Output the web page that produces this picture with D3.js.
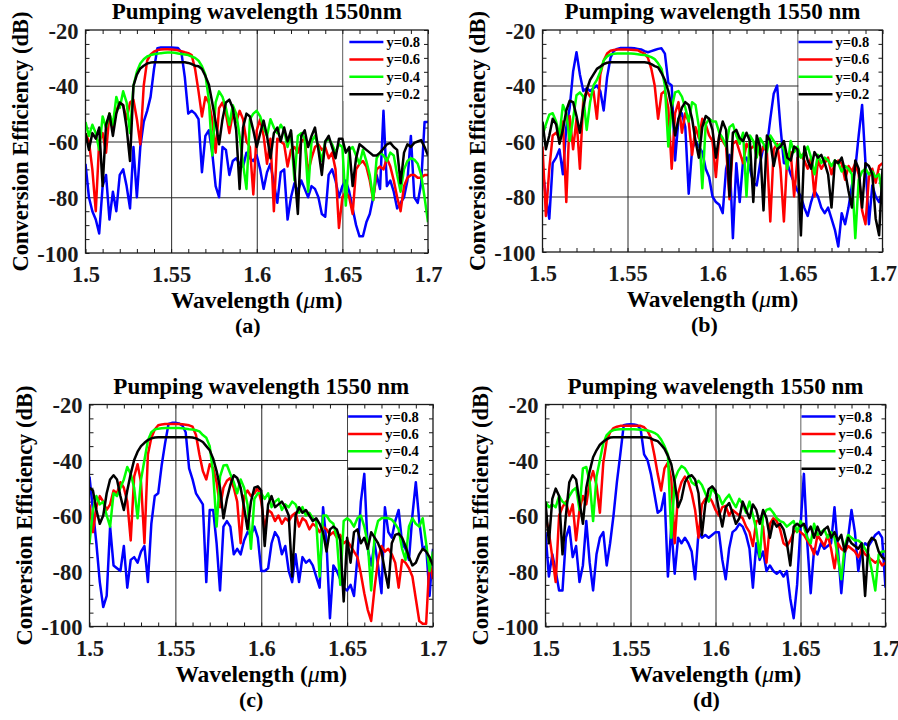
<!DOCTYPE html>
<html>
<head>
<meta charset="utf-8">
<script src="https://cdn.jsdelivr.net/npm/d3@7"></script>
<style>
  body { margin: 0; background: #fff; }
</style>
</head>
<body>
<div id="chart"></div>
<script>
// wavelength samples (um)
const wavelength = [
  1.500,1.502,1.504,1.506,1.508,1.510,1.512,1.514,1.516,1.518,
  1.520,1.522,1.524,1.526,1.528,1.530,1.532,1.534,1.536,1.538,
  1.540,1.542,1.544,1.546,1.548,1.550,1.552,1.554,1.556,1.558,
  1.560,1.562,1.564,1.566,1.568,1.570,1.572,1.574,1.576,1.578,
  1.580,1.582,1.584,1.586,1.588,1.590,1.592,1.594,1.596,1.598,
  1.600,1.602,1.604,1.606,1.608,1.610,1.612,1.614,1.616,1.618,
  1.620,1.622,1.624,1.626,1.628,1.630,1.632,1.634,1.636,1.638,
  1.640,1.642,1.644,1.646,1.648,1.650,1.652,1.654,1.656,1.658,
  1.660,1.662,1.664,1.666,1.668,1.670,1.672,1.674,1.676,1.678,
  1.680,1.682,1.684,1.686,1.688,1.690,1.692,1.694,1.696,1.698,
  1.700
];

const seriesNames = ["y=0.8", "y=0.6", "y=0.4", "y=0.2"];
const titles = ["Pumping wavelength 1550nm", "Pumping wavelength 1550 nm",
                "Pumping wavelength 1550 nm", "Pumping wavelength 1550 nm"];
const panelLabels = ["(a)", "(b)", "(c)", "(d)"];
const xTickValues = [1.5, 1.55, 1.6, 1.65, 1.7];
const xTickLabels = ["1.5", "1.55", "1.6", "1.65", "1.7"];
const yTickValues = [-20, -40, -60, -80, -100];
const yTickLabels = ["-20", "-40", "-60", "-80", "-100"];
const xGrid = [1.55, 1.6, 1.65];
const yGrid = [-40, -60, -80];

// (a)
const aBlue = [
  -68,-80,-85,-88,-93,-76,-72,-88,-78,-85,
  -72,-70,-76,-84,-62,-80,-62,-53,-49,-44,
  -34,-26.5,-26.3,-26.3,-26.3,-26.3,-26.4,-26.5,-28,-37,
  -50,-49,-50,-52,-71,-58,-56,-64,-76,-80,
  -62,-63,-72,-67,-66,-68,-69,-64,-66,-67,
  -65,-70,-77,-71,-68,-75,-82,-71,-70,-88,
  -80,-75,-78,-74,-77,-80,-76,-77,-80,-86,
  -87,-72,-70,-74,-80,-76,-74,-78,-84,-90,
  -94,-94,-89,-86,-80,-72,-77,-49,-76,-74,
  -78,-84,-82,-80,-74,-58,-80,-82,-75,-53,
  -53];
const aRed = [
  -57,-60,-70,-85,-60,-57,-64,-50,-55,-49,
  -46,-47,-52,-46,-45,-52,-61,-40,-31,-28.8,
  -27.8,-27.2,-27,-26.9,-26.9,-27,-27.1,-27.3,-27.6,-28,
  -28.3,-29,-34,-42,-51,-44,-46,-52,-64,-48,
  -46,-50,-57,-50,-53,-49,-52,-60,-62,-79,
  -56,-52,-58,-68,-59,-85,-59,-60,-61,-69,
  -63,-62,-64,-60,-59,-71,-66,-62,-61,-63,
  -62,-66,-64,-70,-91,-80,-78,-80,-86,-70,
  -68,-67,-69,-74,-81,-70,-69,-70,-66,-69,
  -74,-80,-85,-76,-73,-72,-72,-73,-73,-72,
  -72];
const aGreen = [
  -53,-58,-54,-57,-63,-51,-55,-50,-54,-44,
  -48,-42,-46,-57,-40,-35,-32,-30.5,-29.5,-29,
  -28.7,-28.5,-28.3,-28.2,-28.1,-28.1,-28.2,-28.4,-28.6,-28.8,
  -29,-29.5,-30,-31,-33,-36,-45,-65,-46,-42,
  -44,-48,-54,-47,-50,-58,-68,-77,-52,-50,
  -49,-51,-55,-58,-52,-55,-57,-54,-56,-62,
  -57,-74,-58,-57,-59,-78,-60,-58,-62,-67,
  -60,-59,-61,-64,-61,-62,-83,-63,-62,-65,
  -68,-63,-67,-72,-81,-66,-64,-65,-67,-64,
  -65,-72,-78,-70,-67,-66,-66.5,-68,-72,-80,
  -89];
const aBlack = [
  -57,-63,-57,-59,-55,-76,-54,-50,-58,-50,
  -46,-47,-55,-67,-40,-36,-33.8,-32.8,-32,-31.7,
  -31.6,-31.6,-31.6,-31.6,-31.6,-31.6,-31.6,-31.6,-31.6,-31.6,
  -31.8,-32.2,-32.8,-33,-34,-36.5,-39.5,-46,-53,-61,
  -52,-46,-45,-48,-56,-77,-55,-50,-51,-56,
  -62,-57,-52.5,-58,-66,-57,-55,-60,-55,-60,
  -56,-70,-86,-58,-56,-62,-58,-55,-63,-72,
  -60,-58,-62,-66,-59,-59,-64,-62,-76,-66,
  -61,-62,-63,-64,-65,-65,-64,-62.5,-61,-60.5,
  -62,-63,-75,-64,-61,-62,-60.5,-60,-59.5,-62,
  -65];

// (b)
const bBlue = [
  -70,-80,-88,-68,-66,-63,-72,-55,-48,-35,
  -28,-36,-42,-41,-42,-41,-40,-42,-49,-37,
  -30,-27.5,-26.8,-26.5,-26.5,-26.5,-26.5,-26.6,-26.8,-27,
  -27.6,-28,-27.6,-27.2,-26.8,-26.6,-28.5,-39,-40,-67,
  -52,-50,-55,-79,-63,-60,-62,-64,-70,-73,
  -80,-82,-83,-86,-70,-65,-95,-68,-82,-67,
  -66,-70,-75,-76,-68,-62,-62,-52,-43,-40,
  -55,-68,-68,-72,-75,-78,-80,-84,-87,-82,
  -78,-80,-84,-86,-84,-88,-92,-98,-86,-90,
  -84,-76,-70,-58,-47,-68,-90,-76,-80,-82,
  -78];
const bRed = [
  -62,-87,-70,-58,-57,-59,-53,-82,-51,-63,
  -52,-70,-45,-42,-44,-42,-52,-36,-31,-28.5,
  -27.5,-27.2,-27,-27,-27,-27,-27.1,-27.2,-27.3,-28,
  -28.5,-30,-34,-40,-52,-43,-42,-48,-70,-50,
  -46,-57,-50,-53,-65,-55,-59,-52,-54,-58,
  -60,-73,-58,-60,-62,-81,-61,-60,-64,-68,
  -61,-63,-62,-60,-65,-62,-64,-89,-63,-61,
  -70,-89,-65,-64,-80,-66,-65,-67,-70,-66,
  -80,-67,-70,-68,-66,-72,-68,-67,-68,-74,
  -69,-71,-68,-72,-85,-90,-73,-70,-75,-69,
  -68];
const bGreen = [
  -58,-54,-50.5,-50,-53,-58,-47,-50,-60,-52,
  -43.5,-42.5,-44,-56,-46,-40,-38,-35,-31,-29.5,
  -28.8,-28.6,-28.5,-28.5,-28.5,-28.5,-28.5,-28.6,-28.7,-28.9,
  -29,-29.3,-29.8,-30.5,-32,-34,-40,-62,-48,-42.5,
  -42,-44,-48,-53,-46,-47,-55,-77,-54,-52,
  -53,-53,-57,-59,-62,-55,-54,-58,-61,-57,
  -80,-58,-60,-66,-59,-61,-64,-58,-60,-62,
  -61,-63,-70,-60,-64,-62,-66,-64,-62,-66,
  -72,-65,-68,-66,-67,-69,-67,-68,-71,-69,
  -70,-72,-95,-74,-71,-70,-72,-71,-73,-72,
  -80];
const bBlack = [
  -53,-63,-58,-52,-54,-61,-56,-49,-45.5,-46,
  -51,-57,-48,-41.6,-38,-36,-34,-33.2,-32.3,-31.8,
  -31.6,-31.6,-31.6,-31.6,-31.6,-31.6,-31.6,-31.6,-31.6,-31.6,
  -31.6,-31.8,-32.3,-33,-33.5,-35.5,-38,-42,-48,-58,
  -52,-48,-46,-47,-52,-60,-66,-55,-51,-52,
  -56,-66,-58,-53,-56,-80,-57,-56,-59,-60,
  -57,-60,-82,-58,-62,-85,-58,-60,-69,-63,
  -62,-60,-66,-67,-62,-63,-94,-62,-67,-70,
  -64,-66,-65,-68,-72,-84,-67,-68,-66,-71,
  -78,-84,-67,-70,-84,-68,-69,-72,-88,-94,
  -70];

// (c)
const cBlue = [
  -46,-58,-70,-84,-93,-89,-64,-78,-79,-80,
  -71,-86,-76,-75,-77,-73,-71,-84,-63,-53,
  -52,-42,-34,-27,-26.6,-26.6,-26.8,-27.5,-30,-43,
  -47,-52,-54,-56,-84,-58,-58,-70,-87,-64,
  -62,-64,-74,-72,-74,-69,-66,-67,-64,-68,
  -80,-80,-79,-70,-66,-68,-74,-71,-80,-84,
  -74,-84,-75,-77,-76,-78,-82,-86,-57,-70,
  -97,-78,-80,-83,-86,-87,-85,-89,-75,-55,
  -45,-72,-78,-70,-78,-88,-57,-66,-68,-62,
  -58,-70,-72,-76,-60,-48,-62,-72,-71,-89,
  -72];
const cRed = [
  -56,-66,-57,-53,-55,-58,-56,-51,-52,-48,
  -50,-55,-69,-46,-41.5,-48,-70,-38,-32,-29,
  -27.5,-27.2,-27,-27,-27,-27,-27,-27.1,-27.3,-27.5,
  -28,-31,-38,-44,-47,-41.5,-43,-48,-57,-50,
  -47.5,-46.5,-50,-55,-70,-53,-51,-53,-52,-50,
  -55,-65,-58,-59,-62,-60,-63,-61,-62,-60,
  -59,-64,-61,-62,-65,-63,-64,-66,-64,-65,
  -67,-66,-68,-67,-70,-69,-71,-73,-75,-81,
  -88,-94,-98,-86,-76,-71,-73,-72,-74,-77,
  -86,-76,-77,-79,-82,-90,-98,-99,-99,-76,
  -83];
const cGreen = [
  -70,-58,-53,-56,-55,-60,-64,-52,-53,-50,
  -47,-42.5,-45,-50,-61,-47,-40,-33,-30,-29,
  -28.7,-28.6,-28.5,-28.5,-28.5,-28.5,-28.5,-28.6,-28.7,-28.9,
  -29,-29.3,-29.7,-31,-32,-35,-45,-64,-46,-42,
  -41.8,-45,-48,-52,-47,-50,-56,-72,-54,-52,
  -52,-54,-52,-57,-55,-54,-58,-56,-57,-55,
  -56,-59,-57,-60,-59,-61,-62,-82,-60,-60,
  -62,-63,-68,-85,-62,-61,-62,-64,-61,-60,
  -64,-70,-87,-67,-62,-61,-60.8,-61,-61.5,-63,
  -65,-72,-76,-64,-61,-63,-64,-61,-70,-80,
  -73];
const cBlack = [
  -50,-51,-58,-63,-60,-52,-47,-45.5,-47,-53,
  -58,-51,-45,-40,-37,-35,-33.8,-32.8,-32.2,-31.9,
  -31.8,-31.8,-31.8,-31.8,-31.8,-31.8,-31.8,-31.8,-31.8,-31.8,
  -31.9,-32.2,-32.8,-33.5,-35,-36.5,-39.5,-44,-50,-61,
  -54,-49,-45.5,-46.5,-50,-57,-65,-55,-50,-49.5,
  -51,-71,-56,-53,-57,-56,-55,-57,-60,-82,
  -60,-57,-59,-58,-60,-62,-61,-63,-66,-73,
  -65,-64,-65,-69,-91,-68,-77,-66,-65,-70,
  -68,-72,-66,-68,-70,-73,-80,-86,-70,-67,
  -66.5,-68,-71,-75,-78,-77,-74,-72,-73,-75,
  -78];

// (d)
const dBlue = [
  -66,-82,-74,-80,-87,-87,-68,-64,-75,-71,
  -84,-78,-62,-77,-87,-74,-68,-66,-78,-70,
  -60,-48,-38,-27.5,-27.2,-27.1,-27.2,-27.5,-29,-38,
  -40,-45,-52,-59,-58,-52,-82,-64,-81,-68,
  -70,-68,-70,-73,-83,-66,-68,-67,-68,-67,
  -66,-66,-76,-83,-72,-66,-65,-63,-64,-67,
  -72,-86,-70,-76,-73,-80,-78,-80,-81,-80,
  -82,-80,-90,-97,-85,-64,-45,-70,-88,-72,
  -74,-70,-72,-71,-70,-57,-72,-88,-74,-68,
  -58,-66,-80,-72,-70,-71,-69,-67,-66,-68,
  -86];
const dRed = [
  -60,-66,-75,-84,-60,-57,-55,-60,-56,-69,
  -58,-53,-56,-48,-44,-49,-59,-41,-33,-30,
  -28.5,-28,-27.7,-27.7,-27.7,-27.7,-27.7,-27.7,-27.7,-28.2,
  -29.5,-32,-38,-45,-51,-43,-41,-47,-70,-52,
  -48,-46,-48,-52,-58,-68,-56,-54,-53,-55,
  -58,-60,-57,-56.5,-60,-58,-59,-60,-61,-64,
  -66,-71,-62,-62,-64,-77,-63,-61,-62,-65,
  -70,-71,-69,-66,-65,-66,-67,-69,-71,-74,
  -67,-69,-71,-67,-72,-79,-70,-72,-73,-71,
  -72,-73,-75,-72,-74,-75,-76,-77,-76,-78,
  -77];
const dGreen = [
  -55,-57,-56,-57,-53,-55,-56,-53,-51,-50,
  -58,-43,-42.5,-48,-62,-46,-40,-34,-31,-29.8,
  -29.2,-29,-28.9,-28.9,-28.9,-28.9,-28.9,-29,-29.1,-29.2,
  -29.4,-29.7,-30.2,-31,-32.6,-35,-38,-68,-47,-44,
  -42.2,-43,-45,-48,-49,-47.5,-49,-52,-55,-50,
  -52,-53,-56,-54,-52.5,-55,-57,-54,-56,-59,
  -55,-60,-65,-75,-60,-58,-57.5,-59,-61,-62,
  -62.5,-64,-63,-62,-66,-62,-64,-68,-70,-63,
  -67,-66,-65,-68,-66,-68,-75,-83,-71,-67,
  -68,-69,-69,-70,-72,-74,-80,-87,-74,-73,
  -73];
const dBlack = [
  -55,-70,-54,-50.3,-53,-74,-60,-48,-45.5,-47,
  -55,-63,-50,-44,-39,-36.5,-34.5,-33.4,-32.5,-31.9,
  -31.8,-31.8,-31.8,-31.8,-31.8,-31.8,-31.8,-31.8,-31.8,-31.8,
  -31.9,-32.2,-32.8,-33.2,-34.5,-36,-38.5,-41.5,-48,-57,
  -54,-48,-46,-45.5,-47,-52,-67,-56,-50.5,-49.5,
  -51,-58,-64,-57,-55.5,-59,-63,-61,-55,-58,
  -61,-56,-58,-63,-58,-61,-68,-62,-64,-63,
  -65,-70,-78,-64,-63,-64,-63,-66,-64,-68,
  -64,-67,-65,-64,-68,-66,-69,-67,-73,-68,
  -70,-71,-72,-70,-89,-70,-68,-69,-73,-75,
  -76];

const colors = ["#0000ff", "#ff0000", "#00ff00", "#000000"];
const font = "'Liberation Serif', 'Times New Roman', serif";
const ink = "#1a1a1a";

const panels = [
  { id: "a", left: 85.5, top: 30, width: 342.5, height: 223, labelDx: -9, legendDx: 7,
    series: [aBlue, aRed, aGreen, aBlack] },
  { id: "b", left: 542.5, top: 30, width: 340, height: 222, labelDx: -8, legendDx: 1,
    series: [bBlue, bRed, bGreen, bBlack] },
  { id: "c", left: 89.5, top: 404.5, width: 343.5, height: 222, labelDx: -10, legendDx: 1,
    series: [cBlue, cRed, cGreen, cBlack] },
  { id: "d", left: 545.5, top: 404.5, width: 340, height: 222, labelDx: -9, legendDx: 1,
    series: [dBlue, dRed, dGreen, dBlack] }
];

const svg = d3.select("#chart").append("svg")
  .attr("width", 898)
  .attr("height", 720)
  .style("font-family", font);

svg.append("rect").attr("width", 898).attr("height", 720).attr("fill", "#fff");

panels.forEach((p, k) => {
  const g = svg.append("g");
  const x = d3.scaleLinear().domain([1.5, 1.7]).range([p.left, p.left + p.width]);
  const y = d3.scaleLinear().domain([-100, -20]).range([p.top + p.height, p.top]);
  const bottom = p.top + p.height;
  const right = p.left + p.width;
  const cx = p.left + p.width / 2;

  svg.append("clipPath").attr("id", "clip-" + p.id)
    .append("rect")
    .attr("x", p.left).attr("y", p.top)
    .attr("width", p.width).attr("height", p.height);

  // grid lines
  g.append("g")
    .attr("transform", `translate(0,${bottom})`)
    .call(d3.axisBottom(x).tickValues(xGrid).tickSize(-p.height).tickFormat(""))
    .call(s => s.select(".domain").remove())
    .selectAll("line").attr("stroke", "#2a2a2a").attr("stroke-width", 1);
  g.append("g")
    .attr("transform", `translate(${p.left},0)`)
    .call(d3.axisLeft(y).tickValues(yGrid).tickSize(-p.width).tickFormat(""))
    .call(s => s.select(".domain").remove())
    .selectAll("line").attr("stroke", "#2a2a2a").attr("stroke-width", 1);

  // legend background
  const lx = x(1.65);
  g.append("rect")
    .attr("x", lx + 1).attr("y", p.top + 1)
    .attr("width", right - lx - 2).attr("height", 70)
    .attr("fill", "#fff");

  // minor ticks on all four sides, pointing inward
  const minor = [
    [d3.axisBottom(x).ticks(20), `translate(0,${bottom})`],
    [d3.axisTop(x).ticks(20), `translate(0,${p.top})`],
    [d3.axisLeft(y).ticks(16), `translate(${p.left},0)`],
    [d3.axisRight(y).ticks(16), `translate(${right},0)`]
  ];
  minor.forEach(([ax, tr]) => {
    g.append("g").attr("transform", tr)
      .call(ax.tickSize(-4).tickFormat(""))
      .call(s => s.select(".domain").remove())
      .selectAll("line").attr("stroke", ink).attr("stroke-width", 1);
  });

  // data
  const line = d3.line()
    .x((d, i) => x(wavelength[i]))
    .y(d => y(d));
  g.append("g")
    .attr("clip-path", `url(#clip-${p.id})`)
    .selectAll("path")
    .data(p.series)
    .join("path")
    .attr("d", line)
    .attr("fill", "none")
    .attr("stroke", (d, i) => colors[i])
    .attr("stroke-width", 2.5)
    .attr("stroke-linejoin", "round");

  // axes box
  g.append("rect")
    .attr("x", p.left).attr("y", p.top)
    .attr("width", p.width).attr("height", p.height)
    .attr("fill", "none").attr("stroke", ink).attr("stroke-width", 1.3);

  // tick labels
  g.append("g")
    .attr("transform", `translate(0,${bottom})`)
    .call(d3.axisBottom(x).tickValues(xTickValues).tickSize(0).tickFormat((d, i) => xTickLabels[i]))
    .call(s => s.select(".domain").remove())
    .selectAll("text")
    .attr("y", 29).attr("dy", null)
    .attr("fill", ink)
    .style("font-family", font).style("font-size", "22.5px").style("font-weight", "bold");
  g.append("g")
    .attr("transform", `translate(${p.left},0)`)
    .call(d3.axisLeft(y).tickValues(yTickValues).tickSize(0).tickFormat((d, i) => yTickLabels[i]))
    .call(s => s.select(".domain").remove())
    .selectAll("text")
    .attr("x", -7).attr("dy", "0.36em")
    .attr("fill", ink)
    .style("font-family", font).style("font-size", "22.5px").style("font-weight", "bold");

  // legend entries
  seriesNames.forEach((name, i) => {
    const ry = p.top + 12 + i * 17.4;
    g.append("line")
      .attr("x1", lx + p.legendDx).attr("x2", lx + p.legendDx + 34)
      .attr("y1", ry).attr("y2", ry)
      .attr("stroke", colors[i]).attr("stroke-width", 2.5);
    g.append("text")
      .attr("x", lx + p.legendDx + 37).attr("y", ry).attr("dy", "0.35em")
      .attr("font-size", 14.5).attr("font-weight", "bold").attr("fill", "#000")
      .text(name);
  });

  // title
  g.append("text")
    .attr("x", cx).attr("y", p.top - 11)
    .attr("text-anchor", "middle")
    .attr("font-size", 23).attr("font-weight", "bold")
    .text(titles[k]);

  // x label
  const xl = g.append("text")
    .attr("x", cx).attr("y", bottom + 55)
    .attr("text-anchor", "middle")
    .attr("font-size", 23.5).attr("font-weight", "bold");
  xl.append("tspan").text("Wavelength (");
  xl.append("tspan").attr("font-style", "italic").attr("font-weight", "normal").text("\u03bc");
  xl.append("tspan").text("m)");

  // y label
  g.append("text")
    .attr("transform", `translate(${p.left - 58},${p.top + p.height / 2}) rotate(-90)`)
    .attr("text-anchor", "middle")
    .attr("font-size", 22.5).attr("font-weight", "bold")
    .text("Conversion Efficiency (dB)");

  // panel label
  g.append("text")
    .attr("x", cx + p.labelDx).attr("y", bottom + 80)
    .attr("text-anchor", "middle")
    .attr("font-size", 22).attr("font-weight", "bold")
    .text(panelLabels[k]);
});
</script>
</body>
</html>
